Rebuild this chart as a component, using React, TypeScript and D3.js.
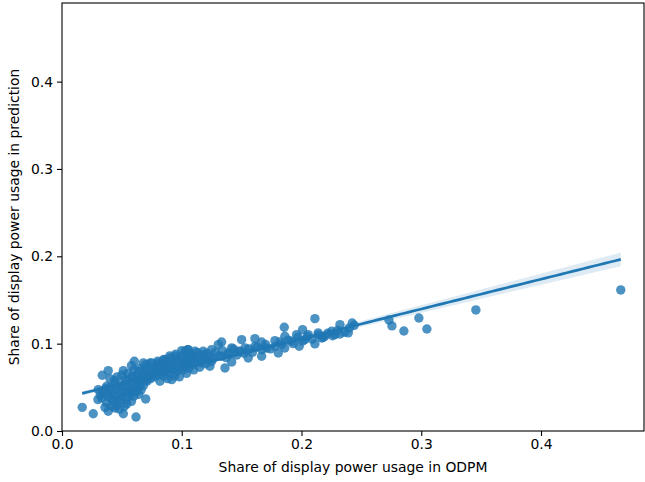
import React, { useRef, useEffect } from 'react';
import * as d3 from 'd3';

// chart size (the matplotlib figure)
const width = 645;
const height = 482;
const margin = { top: 3, right: 1, bottom: 51, left: 62 };

// share in ODPM (x) vs share in prediction (y)
const odpmShare: number[] = [
  0.0169, 0.0261, 0.0512, 0.0618, 0.0699, 0.0457, 0.0604, 0.0386, 0.0336, 0.0512,
  0.0818, 0.0916, 0.1361, 0.1417, 0.1555, 0.1667, 0.1806, 0.1981, 0.2112, 0.1856,
  0.1861, 0.2009, 0.2112, 0.2321, 0.2423, 0.2390, 0.2321, 0.2251, 0.2195, 0.2139,
  0.2056, 0.1959, 0.1778, 0.1667, 0.1611, 0.1500, 0.1417, 0.1333, 0.1305, 0.1250,
  0.1179, 0.1054, 0.1041, 0.0943, 0.0860, 0.0804, 0.0735, 0.0693, 0.0637, 0.0582,
  0.0526, 0.0442, 0.0373, 0.0303, 0.0331, 0.0373, 0.0386, 0.0442, 0.0498, 0.0582,
  0.0651, 0.0707, 0.0762, 0.0832, 0.0916, 0.0999, 0.1083, 0.1166, 0.1250, 0.1235,
  0.1333, 0.1388, 0.1472, 0.1528, 0.1611, 0.1709, 0.1834, 0.1917, 0.2028, 0.2168,
  0.2279, 0.1027, 0.0846, 0.0902, 0.1027, 0.1110, 0.0415, 0.0359, 0.0442, 0.0386,
  0.4666, 0.3456, 0.3047, 0.2980, 0.2855, 0.2755, 0.2730,
  0.040, 0.042, 0.045, 0.047, 0.048, 0.050, 0.052, 0.053, 0.055, 0.056,
  0.057, 0.058, 0.059, 0.060, 0.061, 0.062, 0.063, 0.064, 0.065, 0.066,
  0.067, 0.068, 0.069, 0.070, 0.071, 0.072, 0.073, 0.074, 0.075, 0.076,
  0.077, 0.078, 0.079, 0.080, 0.081, 0.082, 0.083, 0.084, 0.085, 0.086,
  0.087, 0.088, 0.089, 0.090, 0.091, 0.092, 0.093, 0.094, 0.095, 0.096,
  0.097, 0.098, 0.099, 0.100, 0.101, 0.102, 0.103, 0.104, 0.105, 0.106,
  0.107, 0.108, 0.109, 0.110, 0.112, 0.113, 0.114, 0.116, 0.118, 0.119,
  0.121, 0.123, 0.126, 0.128, 0.131, 0.134, 0.137, 0.140, 0.143, 0.146,
  0.149, 0.152, 0.156, 0.159, 0.163, 0.167, 0.170, 0.174, 0.178, 0.182,
  0.186, 0.189, 0.193, 0.197, 0.201, 0.205, 0.209, 0.214, 0.218, 0.222,
  0.226, 0.230, 0.236, 0.240, 0.244,
  0.030, 0.032, 0.034, 0.036, 0.038, 0.041, 0.043, 0.046, 0.049, 0.051,
  0.054, 0.056, 0.058, 0.060, 0.062, 0.064, 0.066, 0.052, 0.048, 0.054,
  0.044, 0.046, 0.040, 0.050, 0.055, 0.060, 0.065, 0.058, 0.070, 0.075,
  0.068, 0.080, 0.085, 0.090, 0.095, 0.100, 0.105, 0.098, 0.104, 0.110,
  0.115, 0.120, 0.088, 0.094,
];

const predShare: number[] = [
  0.0271, 0.0198, 0.0198, 0.0160, 0.0367, 0.0294, 0.0798, 0.0691, 0.0638, 0.0691,
  0.0569, 0.0588, 0.0722, 0.0790, 0.0836, 0.0856, 0.0893, 0.0970, 0.0997, 0.1188,
  0.1085, 0.1160, 0.1286, 0.1218, 0.1237, 0.1123, 0.1111, 0.1142, 0.1085, 0.1123,
  0.1103, 0.1103, 0.1034, 0.1019, 0.1057, 0.1046, 0.0951, 0.1019, 0.0989, 0.0931,
  0.0913, 0.0931, 0.0874, 0.0856, 0.0817, 0.0779, 0.0779, 0.0722, 0.0684, 0.0627,
  0.0588, 0.0550, 0.0512, 0.0473, 0.0378, 0.0321, 0.0397, 0.0416, 0.0455, 0.0473,
  0.0530, 0.0588, 0.0645, 0.0684, 0.0722, 0.0759, 0.0798, 0.0817, 0.0798, 0.0741,
  0.0856, 0.0893, 0.0913, 0.0951, 0.0970, 0.0951, 0.0989, 0.1027, 0.1046, 0.1065,
  0.1103, 0.0759, 0.0798, 0.0836, 0.0913, 0.0913, 0.0283, 0.0271, 0.0263, 0.0226,
  0.1615, 0.1386, 0.1168, 0.1294, 0.1145, 0.1203, 0.1271,
  0.050, 0.045, 0.048, 0.052, 0.040, 0.050, 0.054, 0.045, 0.058, 0.050,
  0.042, 0.055, 0.061, 0.047, 0.053, 0.058, 0.064, 0.050, 0.060, 0.056,
  0.066, 0.052, 0.062, 0.068, 0.057, 0.063, 0.070, 0.060, 0.066, 0.072,
  0.062, 0.068, 0.074, 0.064, 0.070, 0.076, 0.066, 0.072, 0.063, 0.075,
  0.069, 0.078, 0.071, 0.066, 0.076, 0.080, 0.070, 0.074, 0.079, 0.068,
  0.083, 0.072, 0.078, 0.086, 0.070, 0.081, 0.074, 0.084, 0.078, 0.072,
  0.088, 0.083, 0.076, 0.086, 0.080, 0.090, 0.084, 0.078, 0.087, 0.082,
  0.089, 0.085, 0.083, 0.090, 0.086, 0.092, 0.084, 0.088, 0.094, 0.087,
  0.091, 0.089, 0.094, 0.090, 0.096, 0.093, 0.099, 0.094, 0.097, 0.102,
  0.095, 0.104, 0.100, 0.107, 0.103, 0.108, 0.105, 0.110, 0.107, 0.112,
  0.109, 0.115, 0.113, 0.118, 0.121,
  0.036, 0.041, 0.045, 0.048, 0.043, 0.037, 0.034, 0.033, 0.036, 0.039,
  0.037, 0.044, 0.034, 0.040, 0.045, 0.042, 0.047, 0.028, 0.025, 0.031,
  0.058, 0.062, 0.060, 0.064, 0.066, 0.070, 0.072, 0.075, 0.076, 0.078,
  0.078, 0.080, 0.082, 0.086, 0.088, 0.092, 0.093, 0.062, 0.066, 0.070,
  0.073, 0.077, 0.060, 0.063,
];

const xTicks = [0.0, 0.1, 0.2, 0.3, 0.4];
const yTicks = [0.0, 0.1, 0.2, 0.3, 0.4];

const xLabel = 'Share of display power usage in ODPM';
const yLabel = 'Share of display power usage in prediction';

const color = '#1f77b4';
const font = '"DejaVu Sans", sans-serif';

export default function App() {
  const svgRef = useRef<SVGSVGElement | null>(null);

  useEffect(() => {
    if (!svgRef.current) return;
    document.body.style.margin = '0';

    const svg = d3.select(svgRef.current);
    svg.selectAll('*').remove();
    svg.attr('width', width).attr('height', height);

    const x = d3.scaleLinear().domain([0, 0.486]).range([margin.left, width - margin.right]);
    const y = d3.scaleLinear().domain([0, 0.49]).range([height - margin.bottom, margin.top]);

    const points = odpmShare.map((v, i) => [v, predShare[i]] as [number, number]);

    // least-squares fit + 95% confidence band, like seaborn's regplot
    const n = points.length;
    const mx = d3.mean(odpmShare) as number;
    const my = d3.mean(predShare) as number;
    let sxx = 0;
    let sxy = 0;
    points.forEach(([a, b]) => {
      sxx += (a - mx) * (a - mx);
      sxy += (a - mx) * (b - my);
    });
    const slope = sxy / sxx;
    const icpt = my - slope * mx;
    let sse = 0;
    points.forEach(([a, b]) => {
      const r = b - (icpt + slope * a);
      sse += r * r;
    });
    const s = Math.sqrt(sse / (n - 2));
    const t = 1.97;

    const [xMin, xMax] = d3.extent(odpmShare) as [number, number];
    const grid = d3.range(0, 101).map((k) => xMin + ((xMax - xMin) * k) / 100);
    const band = grid.map((gx) => {
      const fit = icpt + slope * gx;
      const se = s * Math.sqrt(1 / n + ((gx - mx) * (gx - mx)) / sxx);
      return { gx, fit, lo: fit - t * se, hi: fit + t * se };
    });

    const g = svg.append('g');

    // scatter
    g.selectAll('circle')
      .data(points)
      .enter()
      .append('circle')
      .attr('cx', (d) => x(d[0]))
      .attr('cy', (d) => y(d[1]))
      .attr('r', 4.7)
      .attr('fill', color)
      .attr('fill-opacity', 0.8);

    // confidence band
    g.append('path')
      .datum(band)
      .attr('fill', color)
      .attr('fill-opacity', 0.15)
      .attr(
        'd',
        d3
          .area<{ gx: number; fit: number; lo: number; hi: number }>()
          .x((d) => x(d.gx))
          .y0((d) => y(d.lo))
          .y1((d) => y(d.hi))
      );

    // regression line
    g.append('path')
      .datum(band)
      .attr('fill', 'none')
      .attr('stroke', color)
      .attr('stroke-width', 2.7)
      .attr(
        'd',
        d3
          .line<{ gx: number; fit: number }>()
          .x((d) => x(d.gx))
          .y((d) => y(d.fit))
      );

    // spines
    svg
      .append('rect')
      .attr('x', margin.left)
      .attr('y', margin.top)
      .attr('width', width - margin.right - margin.left)
      .attr('height', height - margin.bottom - margin.top)
      .attr('fill', 'none')
      .attr('stroke', '#000')
      .attr('stroke-width', 1.1);

    // axes
    const xAxis = svg
      .append('g')
      .attr('transform', `translate(0,${height - margin.bottom})`)
      .call(d3.axisBottom(x).tickValues(xTicks).tickFormat(d3.format('.1f')).tickSize(5).tickPadding(3));
    const yAxis = svg
      .append('g')
      .attr('transform', `translate(${margin.left},0)`)
      .call(d3.axisLeft(y).tickValues(yTicks).tickFormat(d3.format('.1f')).tickSize(5).tickPadding(4));

    [xAxis, yAxis].forEach((ax) => {
      ax.select('.domain').remove();
      ax.selectAll('text').attr('font-family', font).attr('font-size', 13.9).attr('fill', '#000');
      ax.selectAll('line').attr('stroke', '#000').attr('stroke-width', 1.1);
    });

    svg
      .append('text')
      .attr('x', (margin.left + width - margin.right) / 2)
      .attr('y', 472)
      .attr('text-anchor', 'middle')
      .attr('font-family', font)
      .attr('font-size', 13.9)
      .text(xLabel);

    svg
      .append('text')
      .attr('transform', `translate(19,${(margin.top + height - margin.bottom) / 2}) rotate(-90)`)
      .attr('text-anchor', 'middle')
      .attr('font-family', font)
      .attr('font-size', 13.9)
      .text(yLabel);
  }, []);

  return <svg ref={svgRef} style={{ display: 'block' }}></svg>;
}
